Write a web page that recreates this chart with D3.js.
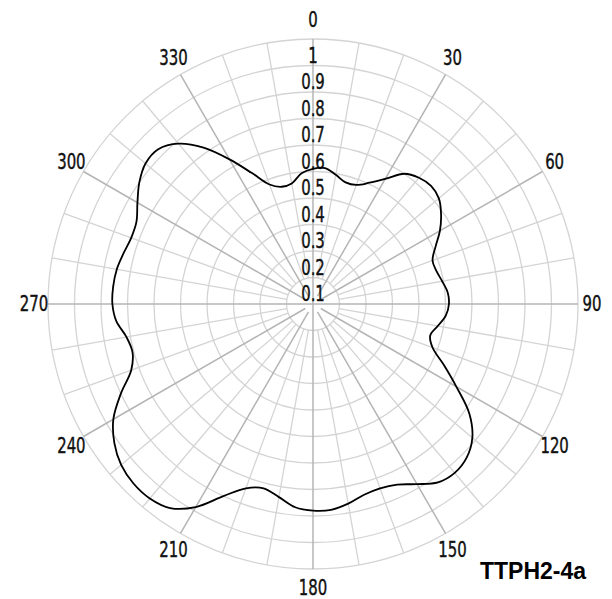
<!DOCTYPE html>
<html><head><meta charset="utf-8">
<script src="https://cdn.jsdelivr.net/npm/d3@7"></script>
<style>body{margin:0;background:#fff}svg{display:block}</style>
</head><body>
<script>
const angles = [0,5,10,15,20,25,30,35,40,45,50,55,60,65,70,75,80,85,90,95,100,105,110,115,120,125,130,135,140,145,150,155,160,165,170,175,180,185,190,195,200,205,210,215,220,225,230,235,240,245,250,255,260,265,270,275,280,285,290,295,300,305,310,315,320,325,330,335,340,345,350,355];
const radii = [0.51,0.515,0.495,0.475,0.478,0.505,0.545,0.60,0.622,0.63,0.62,0.59,0.553,0.51,0.48,0.482,0.495,0.51,0.513,0.503,0.478,0.458,0.48,0.545,0.625,0.72,0.785,0.82,0.832,0.822,0.785,0.752,0.74,0.745,0.765,0.78,0.78,0.77,0.74,0.72,0.74,0.80,0.885,0.94,0.958,0.958,0.945,0.915,0.87,0.80,0.73,0.705,0.715,0.745,0.757,0.757,0.752,0.74,0.73,0.735,0.765,0.80,0.825,0.826,0.79,0.72,0.63,0.545,0.48,0.458,0.462,0.495];
const ringValues = [0.1,0.2,0.3,0.4,0.5,0.6,0.7,0.8,0.9,1];
const ringLabels = ["0.1","0.2","0.3","0.4","0.5","0.6","0.7","0.8","0.9","1"];
const angleTicks = [0,30,60,90,120,150,180,210,240,270,300,330];
const title = "TTPH2-4a";

const W = 612, H = 599, cx = 313, cy = 304, R = 265;
const svg = d3.select("body").append("svg").attr("width", W).attr("height", H);
const r = d3.scaleLinear().domain([0, 1]).range([0, R]);
const a = d3.scaleLinear().domain([0, 360]).range([0, 2 * Math.PI]);
const g = svg.append("g").attr("transform", `translate(${cx},${cy})`);
const pt = (deg, rad) => [rad * Math.sin(a(deg)), -rad * Math.cos(a(deg))];

g.selectAll("circle.ring").data(ringValues).join("circle")
  .attr("r", d => r(d)).attr("fill", "none").attr("stroke", "#d4d4d4").attr("stroke-width", 1.3);

const minor = d3.range(0, 360, 10).filter(d => d % 30 !== 0);
g.selectAll("line.minor").data(minor).join("line")
  .attr("x1", d => pt(d, r(0.1))[0]).attr("y1", d => pt(d, r(0.1))[1])
  .attr("x2", d => pt(d, R)[0]).attr("y2", d => pt(d, R)[1])
  .attr("stroke", "#d4d4d4").attr("stroke-width", 1.3);

g.selectAll("line.major").data(angleTicks).join("line")
  .attr("x1", d => d % 90 === 0 ? 0 : pt(d, 9)[0]).attr("y1", d => d % 90 === 0 ? 0 : pt(d, 9)[1])
  .attr("x2", d => pt(d, R)[0]).attr("y2", d => pt(d, R)[1])
  .attr("stroke", "#b4b4b4").attr("stroke-width", 1.5);

const font = "'Liberation Sans Narrow','DejaVu Sans Condensed',Arial,sans-serif";
g.selectAll("text.ang").data(angleTicks).join("text")
  .attr("transform", d => `translate(${Math.sin(a(d)) * (R + 14)},${-Math.cos(a(d)) * (R + 19)}) scale(0.92,1.15)`)
  .attr("text-anchor", "middle").attr("dominant-baseline", "central")
  .attr("font-family", font).attr("font-size", 18).attr("fill", "#111")
  .attr("stroke", "#111").attr("stroke-width", 0.35)
  .text(d => d);

g.selectAll("text.rl").data(ringValues).join("text")
  .attr("transform", d => `translate(0,${-(r(d) - r(0.1)) - 3}) scale(0.92,1.15)`)
  .attr("text-anchor", "middle")
  .attr("font-family", font).attr("font-size", 18).attr("fill", "#111")
  .attr("stroke", "#111").attr("stroke-width", 0.35)
  .text((d, i) => ringLabels[i]);

const line = d3.lineRadial().angle(d => a(d[0])).radius(d => r(d[1])).curve(d3.curveCatmullRomClosed);
g.append("path").datum(angles.map((d, i) => [d, radii[i]]))
  .attr("d", line).attr("fill", "none").attr("stroke", "#000").attr("stroke-width", 1.8);

svg.append("text").attr("x", 480).attr("y", 579)
  .attr("font-family", "'Liberation Sans',Arial,sans-serif").attr("font-weight", "bold")
  .attr("font-size", 23).attr("fill", "#000").text(title);
</script>
</body></html>
